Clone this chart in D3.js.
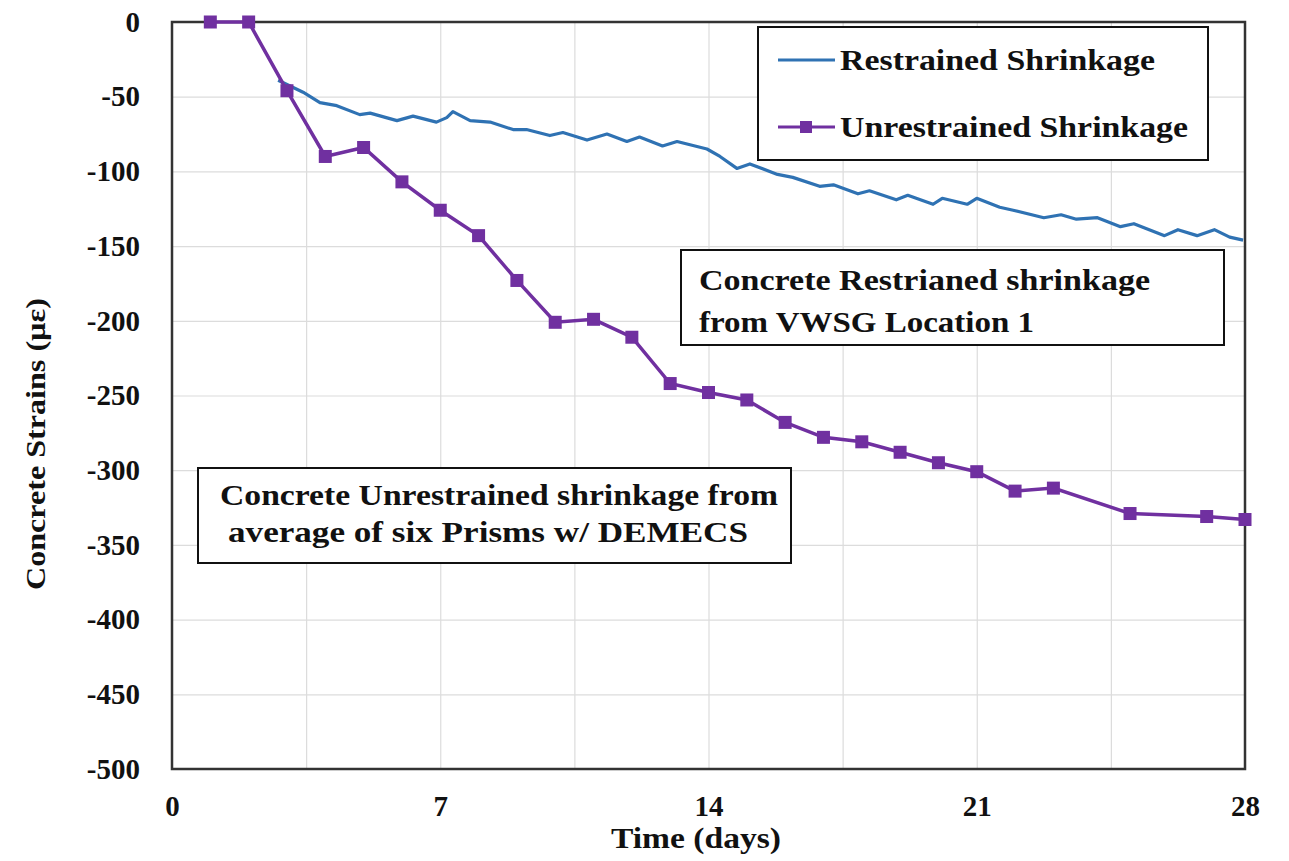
<!DOCTYPE html>
<html>
<head>
<meta charset="utf-8">
<script src="https://cdn.jsdelivr.net/npm/d3@7"></script>
<style>
  body { margin: 0; background: #fff; }
  text { font-family: "Liberation Serif", "Times New Roman", serif; font-weight: bold; }
</style>
</head>
<body>
<div id="chart"></div>
<script>
// unrestrained shrinkage, prisms w/ DEMECS (day, microstrain)
var unr_days = [1, 2, 3, 4, 5, 6, 7, 8, 9, 10, 11, 12, 13, 14, 15, 16, 17, 18, 19, 20, 21, 22, 23, 25, 27, 28]
var unr_vals = [0, 0, -46, -90, -84, -107, -126, -143, -173, -201, -199, -211, -242, -248, -253, -268, -278, -281, -288, -295, -301, -314, -312, -329, -331, -333]

// restrained shrinkage, VWSG location 1
var res_days = [2.77, 3.42, 3.86, 4.3, 4.9, 5.17, 5.87, 6.29, 6.9, 7.17, 7.33, 7.78, 8.3, 8.9, 9.25, 9.86,
  10.2, 10.83, 11.35, 11.87, 12.2, 12.8, 13.18, 13.96, 14.3, 14.74, 15.08, 15.8, 16.2, 16.9, 17.26,
  17.9, 18.2, 18.9, 19.2, 19.86, 20.1, 20.75, 21.0, 21.6, 21.95, 22.75, 23.2, 23.6, 24.15, 24.75,
  25.1, 25.9, 26.25, 26.75, 27.2, 27.6, 27.95]
var res_vals = [-39, -47, -54, -56, -62, -61, -66, -63, -67, -64, -60, -66, -67, -72, -72, -76,
  -74, -79, -75, -80, -77, -83, -80, -85, -90, -98, -95, -102, -104, -110, -109,
  -115, -113, -119, -116, -122, -118, -122, -118, -124, -126, -131, -129, -132, -131, -137,
  -135, -143, -139, -143, -139, -144, -146]

var x_ticks = [0, 7, 14, 21, 28]
var x_grid = [3.5, 7, 10.5, 14, 17.5, 21, 24.5]
var y_ticks = [0, -50, -100, -150, -200, -250, -300, -350, -400, -450, -500]

var W = 1289, H = 861
var pL = 172, pR = 1245, pT = 22, pB = 769

var blue = "#2f72b3", purple = "#7030a0"

var svg = d3.select("#chart").append("svg")
  .attr("width", W)
  .attr("height", H)

var x = d3.scaleLinear().domain([0, 28]).range([pL, pR])
var y = d3.scaleLinear().domain([-500, 0]).range([pB, pT])

// grid
svg.append("g")
  .attr("transform", "translate(0," + pB + ")")
  .call(d3.axisBottom(x).tickValues(x_grid).tickSize(-(pB - pT)).tickFormat(""))
  .call(function(g) { g.select(".domain").remove() })
  .selectAll("line").attr("stroke", "#dcdcdc").attr("stroke-width", 1.2)

svg.append("g")
  .attr("transform", "translate(" + pL + ",0)")
  .call(d3.axisLeft(y).tickValues(y_ticks).tickSize(-(pR - pL)).tickFormat(""))
  .call(function(g) { g.select(".domain").remove() })
  .selectAll("line").attr("stroke", "#dcdcdc").attr("stroke-width", 1.2)

// tick labels (plain hyphen for negatives, like the original)
var yAxis = svg.append("g")
  .attr("transform", "translate(" + pL + ",0)")
  .call(d3.axisLeft(y).tickValues(y_ticks).tickSize(0).tickPadding(32)
    .tickFormat(function(d) { return String(d) }))
yAxis.select(".domain").remove()
yAxis.selectAll("text")
  .attr("font-size", "29px")
  .attr("fill", "#111")
  .style("font-family", "'Liberation Serif', serif")
  .style("font-weight", "bold")

var xAxis = svg.append("g")
  .attr("transform", "translate(0," + pB + ")")
  .call(d3.axisBottom(x).tickValues(x_ticks).tickSize(0).tickPadding(26))
xAxis.select(".domain").remove()
xAxis.selectAll("text")
  .attr("font-size", "29px")
  .attr("fill", "#111")
  .style("font-family", "'Liberation Serif', serif")
  .style("font-weight", "bold")

// frame
svg.append("rect")
  .attr("x", pL).attr("y", pT)
  .attr("width", pR - pL).attr("height", pB - pT)
  .attr("fill", "none")
  .attr("stroke", "#333")
  .attr("stroke-width", 2.5)

// axis titles
svg.append("text")
  .attr("x", 696)
  .attr("y", 848)
  .attr("text-anchor", "middle")
  .attr("font-size", "29px")
  .attr("fill", "#111")
  .attr("textLength", 170)
  .attr("lengthAdjust", "spacingAndGlyphs")
  .text("Time (days)")

svg.append("text")
  .attr("transform", "translate(45,444) rotate(-90)")
  .attr("text-anchor", "middle")
  .attr("font-size", "28px")
  .attr("fill", "#111")
  .attr("textLength", 292)
  .attr("lengthAdjust", "spacingAndGlyphs")
  .text("Concrete Strains (µε)")

// restrained line
var res = res_days.map(function(d, i) { return [d, res_vals[i]] })
svg.append("path")
  .datum(res)
  .attr("fill", "none")
  .attr("stroke", blue)
  .attr("stroke-width", 3.2)
  .attr("stroke-linejoin", "round")
  .attr("d", d3.line().x(function(d) { return x(d[0]) }).y(function(d) { return y(d[1]) }))

// unrestrained line + markers
var unr = unr_days.map(function(d, i) { return [d, unr_vals[i]] })
svg.append("path")
  .datum(unr)
  .attr("fill", "none")
  .attr("stroke", purple)
  .attr("stroke-width", 3.5)
  .attr("d", d3.line().x(function(d) { return x(d[0]) }).y(function(d) { return y(d[1]) }))

svg.selectAll(".mk")
  .data(unr)
  .enter()
  .append("rect")
  .attr("class", "mk")
  .attr("x", function(d) { return x(d[0]) - 6.5 })
  .attr("y", function(d) { return y(d[1]) - 6.5 })
  .attr("width", 13)
  .attr("height", 13)
  .attr("fill", purple)

// legend
var lg = svg.append("g")
lg.append("rect")
  .attr("x", 758).attr("y", 27).attr("width", 450).attr("height", 133)
  .attr("fill", "#fff").attr("stroke", "#111").attr("stroke-width", 2)
lg.append("line")
  .attr("x1", 778).attr("x2", 835).attr("y1", 60).attr("y2", 60)
  .attr("stroke", blue).attr("stroke-width", 3)
lg.append("text")
  .attr("x", 840).attr("y", 70)
  .attr("font-size", "29px").attr("fill", "#111")
  .attr("textLength", 315).attr("lengthAdjust", "spacingAndGlyphs")
  .text("Restrained Shrinkage")
lg.append("line")
  .attr("x1", 778).attr("x2", 835).attr("y1", 127).attr("y2", 127)
  .attr("stroke", purple).attr("stroke-width", 3)
lg.append("rect")
  .attr("x", 800).attr("y", 121).attr("width", 12).attr("height", 12)
  .attr("fill", purple)
lg.append("text")
  .attr("x", 840).attr("y", 137)
  .attr("font-size", "29px").attr("fill", "#111")
  .attr("textLength", 348).attr("lengthAdjust", "spacingAndGlyphs")
  .text("Unrestrained Shrinkage")

// annotation boxes
function note(bx, by, bw, bh, lines, widths, tx, ty, dy, fs) {
  var g = svg.append("g")
  g.append("rect")
    .attr("x", bx).attr("y", by).attr("width", bw).attr("height", bh)
    .attr("fill", "#fff").attr("stroke", "#111").attr("stroke-width", 2)
  lines.forEach(function(t, i) {
    g.append("text")
      .attr("x", tx[i]).attr("y", ty + i * dy)
      .attr("font-size", fs).attr("fill", "#111")
      .attr("textLength", widths[i]).attr("lengthAdjust", "spacingAndGlyphs")
      .text(t)
  })
}

note(681, 250, 543, 95, ["Concrete Restrianed shrinkage", "from VWSG Location 1"], [451, 335], [699, 699], 290, 42, "29px")
note(198, 468, 593, 95, ["Concrete Unrestrained shrinkage from", "average of six Prisms w/ DEMECS"], [558, 520], [220, 228], 505, 37, "29px")
</script>
</body>
</html>
